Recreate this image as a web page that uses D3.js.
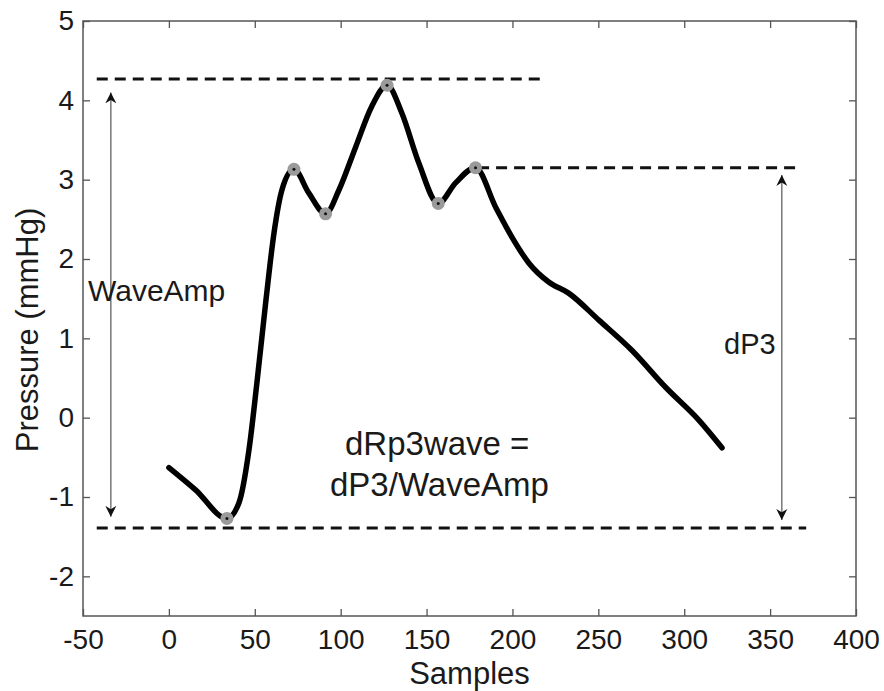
<html>
<meta charset="UTF-8">
<head>
    <script src="https://d3js.org/d3.v7.min.js"></script>
    <style>
        body { margin: 0; background: white; }
        svg text { font-family: "Liberation Sans", Arial, sans-serif; fill: #1a1a1a; }
        .axis path { stroke: none; }
        .axis line { stroke: #555; stroke-width: 1.3; }
        .axis text { font-size: 28px; }
    </style>
</head>
<body>
    <svg id="graph" width="884" height="691"></svg>
</body>
<script>
    // pressure waveform
    const sampleX = [0, 15.5, 33.8, 40.7, 46.6, 51.2, 56.5, 61.2, 65.8, 72.8, 81.5, 91.2, 99, 108.7, 118, 127,
                     135.6, 145.5, 156.8, 166.9, 178.5, 190.3, 199.6, 209.5, 221.1, 232.7, 250.3, 269.5, 289.3, 308.5, 322];
    const pressure = [-0.63, -0.91, -1.27, -1.08, -0.41, 0.43, 1.48, 2.33, 2.87, 3.13, 2.83, 2.57, 2.87, 3.41, 3.92, 4.19,
                      3.84, 3.21, 2.70, 2.96, 3.15, 2.65, 2.28, 1.95, 1.71, 1.57, 1.23, 0.85, 0.38, -0.03, -0.38];

    // marked extrema
    const featureX = [33.8, 72.8, 91.2, 127, 156.8, 178.5];
    const featureY = [-1.27, 3.13, 2.57, 4.19, 2.70, 3.15];

    // dashed reference levels
    const dashY = [4.27, 3.15, -1.39];
    const dashFrom = [-42, 180, -42];
    const dashTo = [216, 368, 371];

    // double arrows
    const arrowX = [-33.8, 356.8];
    const arrowTop = [4.10, 3.06];
    const arrowBottom = [-1.25, -1.29];

    const xTicks = [-50, 0, 50, 100, 150, 200, 250, 300, 350, 400];
    const yTicks = [-2, -1, 0, 1, 2, 3, 4, 5];

    const g = d3.select("svg#graph");
    const margin = {top: 21, right: 28, bottom: 75, left: 83};
    const width = g.attr("width");
    const height = g.attr("height");
    const chartWidth = width - margin.left - margin.right;
    const chartHeight = height - margin.top - margin.bottom;

    const xScale = d3.scaleLinear().domain([-50, 400]).range([0, chartWidth]);
    const yScale = d3.scaleLinear().domain([-2.5, 5]).range([chartHeight, 0]);
    const plain = d => String(d);   // keep the ascii hyphen like the original

    const chartArea = g.append("g")
        .attr("transform", `translate(${margin.left},${margin.top})`);

    // axes with inward ticks on every side (box style)
    chartArea.append("g").attr("class", "axis")
        .attr("transform", `translate(0,${chartHeight})`)
        .call(d3.axisBottom(xScale).tickValues(xTicks).tickFormat(plain).tickSizeInner(-7).tickSizeOuter(0).tickPadding(13));
    chartArea.append("g").attr("class", "axis")
        .call(d3.axisTop(xScale).tickValues(xTicks).tickSizeInner(-7).tickSizeOuter(0).tickFormat(""));
    chartArea.append("g").attr("class", "axis")
        .call(d3.axisLeft(yScale).tickValues(yTicks).tickFormat(plain).tickSizeInner(-7).tickSizeOuter(0).tickPadding(9));
    chartArea.append("g").attr("class", "axis")
        .attr("transform", `translate(${chartWidth},0)`)
        .call(d3.axisRight(yScale).tickValues(yTicks).tickSizeInner(-7).tickSizeOuter(0).tickFormat(""));

    chartArea.append("rect")
        .attr("width", chartWidth)
        .attr("height", chartHeight)
        .attr("fill", "none")
        .attr("stroke", "#555")
        .attr("stroke-width", 1.5);

    // arrowhead
    const defs = g.append("defs");
    defs.append("marker")
        .attr("id", "head")
        .attr("viewBox", "0 0 10 10")
        .attr("refX", 10).attr("refY", 5)
        .attr("markerWidth", 11).attr("markerHeight", 13)
        .attr("markerUnits", "userSpaceOnUse")
        .attr("orient", "auto-start-reverse")
        .append("path")
        .attr("d", "M0,0 L10,5 L0,10 L3,5 Z")
        .attr("fill", "#111");

    // dashed levels
    chartArea.selectAll("line.level")
        .data(dashY)
        .join("line")
        .attr("class", "level")
        .attr("x1", (d, i) => xScale(dashFrom[i]))
        .attr("x2", (d, i) => xScale(dashTo[i]))
        .attr("y1", d => yScale(d))
        .attr("y2", d => yScale(d))
        .attr("stroke", "#111")
        .attr("stroke-width", 3)
        .attr("stroke-dasharray", "11,7");

    // arrows
    chartArea.selectAll("line.arrow")
        .data(arrowX)
        .join("line")
        .attr("class", "arrow")
        .attr("x1", d => xScale(d))
        .attr("x2", d => xScale(d))
        .attr("y1", (d, i) => yScale(arrowTop[i]))
        .attr("y2", (d, i) => yScale(arrowBottom[i]))
        .attr("stroke", "#777")
        .attr("stroke-width", 1.5)
        .attr("marker-start", "url(#head)")
        .attr("marker-end", "url(#head)");

    // waveform
    const wave = d3.line()
        .x((d, i) => xScale(sampleX[i]))
        .y(d => yScale(d))
        .curve(d3.curveMonotoneX);
    chartArea.append("path")
        .datum(pressure)
        .attr("d", wave)
        .attr("fill", "none")
        .attr("stroke", "#000")
        .attr("stroke-width", 5.5)
        .attr("stroke-linejoin", "round")
        .attr("stroke-linecap", "round");

    // feature markers
    chartArea.selectAll("circle.feature")
        .data(featureX)
        .join("circle")
        .attr("class", "feature")
        .attr("cx", d => xScale(d))
        .attr("cy", (d, i) => yScale(featureY[i]))
        .attr("r", 6.5)
        .attr("fill", "#9a9a9a");
    chartArea.selectAll("circle.dot")
        .data(featureX)
        .join("circle")
        .attr("class", "dot")
        .attr("cx", d => xScale(d))
        .attr("cy", (d, i) => yScale(featureY[i]))
        .attr("r", 1.5)
        .attr("fill", "#111");

    // annotations
    g.append("text").attr("x", 88).attr("y", 301).attr("font-size", "30px").text("WaveAmp");
    g.append("text").attr("x", 724).attr("y", 354).attr("font-size", "29px").text("dP3");
    g.append("text").attr("x", 345).attr("y", 455).attr("font-size", "33px").text("dRp3wave =");
    g.append("text").attr("x", 330).attr("y", 496).attr("font-size", "33px").text("dP3/WaveAmp");

    // axis labels
    g.append("text")
        .attr("x", margin.left + chartWidth / 2)
        .attr("y", 684)
        .attr("text-anchor", "middle")
        .attr("font-size", "31px")
        .text("Samples");
    g.append("text")
        .attr("transform", `translate(38,330) rotate(-90)`)
        .attr("text-anchor", "middle")
        .attr("font-size", "31px")
        .text("Pressure (mmHg)");
</script>
</html>
